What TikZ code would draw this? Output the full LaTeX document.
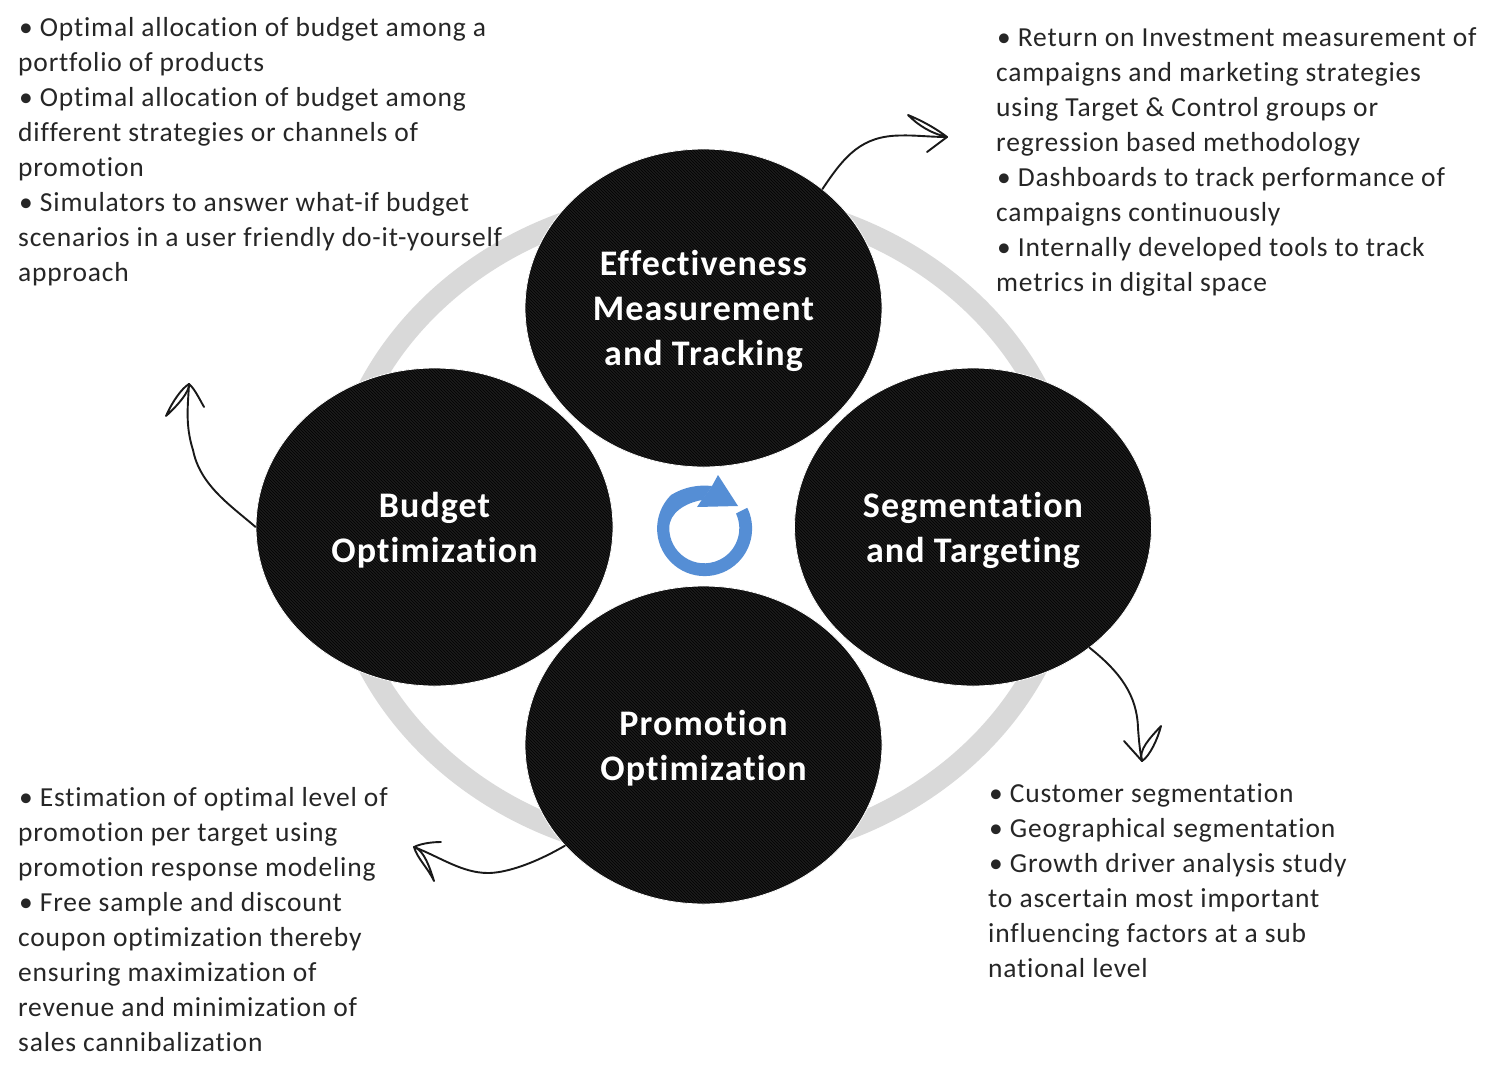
\documentclass[tikz,border=0pt]{standalone}
\usepackage{fontspec}
\setmainfont{Carlito}[LetterSpace=3,Ligatures=CommonOff]
\usetikzlibrary{shapes.geometric,patterns}
\definecolor{ringgray}{HTML}{D9D9D9}
\definecolor{discblack}{HTML}{1C1C1C}
\definecolor{bodytext}{HTML}{262626}
\definecolor{cycleblue}{HTML}{558ED5}
\tikzset{
  disc/.style={ellipse,minimum width=357pt,minimum height=318pt,inner sep=0pt,draw=white,line width=0.8pt,
    preaction={fill=discblack},pattern=north west lines,pattern color=black},
  disclabel/.style={inner sep=0pt,yshift=-3pt,text=white,align=center,font=\fontsize{36}{45}\selectfont\bfseries},
  bodyblock/.style={anchor=north west,inner sep=0pt,align=left,text=bodytext,font=\fontsize{27.5}{35}\selectfont},
  sketch/.style={draw=black!90,line width=1.9pt,line cap=round,line join=round}
}
\begin{document}
\begin{tikzpicture}[x=1pt,y=-1pt]
\useasboundingbox (0,0) rectangle (1504,1077);
\fill[white] (0,0) rectangle (1504,1077);
% ring
\draw[ringgray,line width=22pt] (703,527) ellipse [x radius=369,y radius=328];
% discs
\node[disc] (budget) at (434.5,527) {};
\node[disc] (seg) at (973,527) {};
\node[disc] (eff) at (703.5,308) {};
\node[disc] (promo) at (703.5,745) {};
\node[disclabel] (budgetText) at (budget.center) {Budget\\Optimization};
\node[disclabel] (segText) at (seg.center) {Segmentation\\and Targeting};
\node[disclabel] (effText) at (eff.center) {Effectiveness\\Measurement\\and Tracking};
\node[disclabel] (promoText) at (promo.center) {Promotion\\Optimization};
% cycle icon
\fill[cycleblue] (712,486) .. controls (698,484.5) and (684,487) .. (671,495)
  arc[start angle=-135,end angle=-386,radius=47.5] -- (736,513.5)
  arc[start angle=-385,end angle=-180,radius=35] .. controls (669,513) and (685,503) .. (702,500) -- (706,495) -- cycle;
\fill[cycleblue] (718,475) -- (738,506) -- (697,507) -- (702,499.5) -- (707,493) -- (712,486) -- cycle;
% connectors
\coordinate (tipA) at (947,137); \coordinate (barbA1) at (908,115); \coordinate (barbA2) at (927,152);
\coordinate (tipB) at (1142,761); \coordinate (barbB1) at (1124,741); \coordinate (barbB2) at (1161,726);
\coordinate (tipC) at (414,847); \coordinate (barbC1) at (441,842); \coordinate (barbC2) at (434,881);
\coordinate (tipD) at (189,384); \coordinate (barbD1) at (204,407); \coordinate (barbD2) at (166,416);
\draw[sketch] (eff.45.5) .. controls (845,155) and (862,136) .. (900,135.5) .. controls (915,135) and (930,137) .. (tipA);
\draw[sketch] (barbA1) .. controls (925,122) and (938,130) .. (tipA) .. controls (930,133) and (918,125) .. (barbA1);
\draw[sketch] (barbA2) -- (tipA);
\draw[sketch] (seg.-46.7) .. controls (1120,672) and (1137,695) .. (1138,728) .. controls (1139,742) and (1140,752) .. (tipB);
\draw[sketch] (barbB2) .. controls (1158,738) and (1150,756) .. (tipB) .. controls (1138,750) and (1150,738) .. (barbB2);
\draw[sketch] (barbB1) -- (tipB);
\draw[sketch] (promo.216) .. controls (530,866) and (503,873) .. (488,873) .. controls (462,873) and (440,857) .. (tipC);
\draw[sketch] (barbC2) .. controls (428,868) and (417,858) .. (tipC) .. controls (424,850) and (430,868) .. (barbC2);
\draw[sketch] (barbC1) .. controls (430,842) and (420,844) .. (tipC);
\draw[sketch] (budget.180) .. controls (230,505) and (200,485) .. (193,450) .. controls (185,425) and (188,405) .. (tipD);
\draw[sketch] (barbD2) .. controls (172,402) and (182,388) .. (tipD) .. controls (190,392) and (175,408) .. (barbD2);
\draw[sketch] (barbD1) .. controls (199,398) and (194,388) .. (tipD);
% texts
\node[bodyblock] (tl) at (18,17) {\hspace*{1pt}• Optimal allocation of budget among a\\portfolio of products\\\hspace*{1pt}• Optimal allocation of budget among\\different strategies or channels of\\promotion\\\hspace*{1pt}• Simulators to answer what-if budget\\scenarios in a user friendly do-it-yourself\\approach};
\node[bodyblock] (tr) at (996,27) {\hspace*{1pt}• Return on Investment measurement of\\campaigns and marketing strategies\\using Target \& Control groups or\\regression based methodology\\\hspace*{1pt}• Dashboards to track performance of\\campaigns continuously\\\hspace*{1pt}• Internally developed tools to track\\metrics in digital space};
\node[bodyblock] (br) at (988,783) {\hspace*{1pt}• Customer segmentation\\\hspace*{1pt}• Geographical segmentation\\\hspace*{1pt}• Growth driver analysis study\\to ascertain most important\\influencing factors at a sub\\national level};
\node[bodyblock] (bl) at (18,787) {\hspace*{1pt}• Estimation of optimal level of\\promotion per target using\\promotion response modeling\\\hspace*{1pt}• Free sample and discount\\coupon optimization thereby\\ensuring maximization of\\revenue and minimization of\\sales cannibalization};
\end{tikzpicture}
\end{document}
